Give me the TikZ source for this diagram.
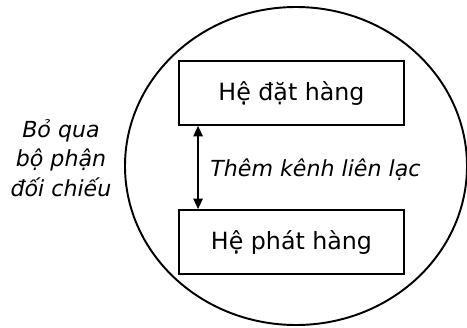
\documentclass[tikz,border=0pt]{standalone}
\usepackage{fontspec}
\setmainfont{DejaVu Sans}
\usepackage{tikz}
\usetikzlibrary{arrows.meta,shapes,positioning}

\tikzset{
    hebox/.style={draw, line width=1.1pt, minimum width=4.5cm, minimum height=1.28cm, inner sep=0pt, font=\fontsize{13.5}{16}\selectfont},
    note/.style={font=\fontsize{12.6}{16.8}\selectfont\itshape, inner sep=0pt}
}

\begin{document}
\begin{tikzpicture}[x=0.02cm, y=-0.02cm, >={Triangle[length=0.21cm, width=0.19cm]}]
    \useasboundingbox (0,0) rectangle (467,328);

    \draw[line width=1.1pt] (296,166) ellipse [x radius=171, y radius=159];

    \node (dathang) at (291.5,93) [hebox]{Hệ đặt hàng};
    \node (phathang) at (291.5,242) [hebox]{Hệ phát hàng};

    \coordinate (top) at ([xshift=0.4cm]dathang.south west);
    \coordinate (bot) at ([xshift=0.4cm]phathang.north west);
    \draw[<->, line width=0.8pt] (top) -- (bot);

    \node (kenh) at (210,170) [note, anchor=west]{Thêm kênh liên lạc};
    \node (boqua) at (61,158) [note, align=center]{Bỏ qua\\bộ phận\\đối chiếu};
\end{tikzpicture}
\end{document}
